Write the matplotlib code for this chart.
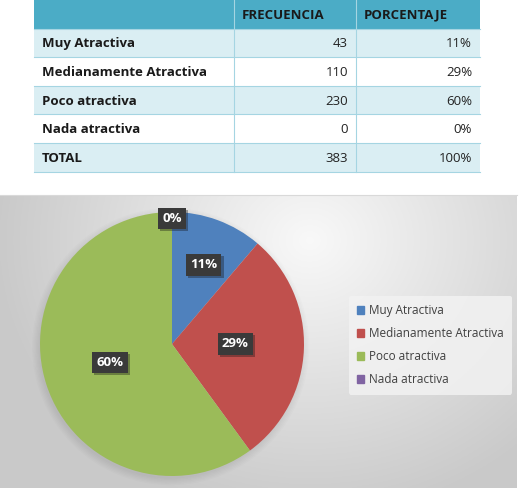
import numpy as np
import matplotlib
matplotlib.use('Agg')
import matplotlib.pyplot as plt
from matplotlib.patches import Rectangle, Circle
import matplotlib.patheffects as pe

plt.rcParams['font.family'] = ['Open Sans', 'DejaVu Sans']

# data
categorias = ['Muy Atractiva', 'Medianamente Atractiva', 'Poco atractiva', 'Nada atractiva']
frecuencia = [43, 110, 230, 0]
porcentaje = [11, 29, 60, 0]
total_frec = 383
total_pct = 100
colores = ['#4F81BD', '#C0504D', '#9BBB59', '#8064A2']

W, H = 521, 488
fig = plt.figure(figsize=(W / 100, H / 100), dpi=100)

# full-figure axes in pixel units
base = fig.add_axes([0, 0, 1, 1])
base.set_xlim(0, W)
base.set_ylim(H, 0)
base.axis('off')

# --- table ---
cols = [34, 234, 356, 480]
row_h = 28.6
top = 0
header_bg = '#4BACC6'
light = '#DAEEF3'
base.add_patch(Rectangle((cols[0], top), cols[-1] - cols[0], row_h, color=header_bg, lw=0))
base.text(cols[1] + 8, top + row_h / 2 + 1, 'FRECUENCIA', fontsize=9.5, fontweight='bold',
          color='#1a1a1a', va='center', ha='left')
base.text(cols[2] + 8, top + row_h / 2 + 1, 'PORCENTAJE', fontsize=9.5, fontweight='bold',
          color='#1a1a1a', va='center', ha='left')

rows = list(zip(categorias, frecuencia, [f'{p}%' for p in porcentaje]))
rows.append(('TOTAL', total_frec, f'{total_pct}%'))
for i, (name, f, p) in enumerate(rows):
    y0 = top + row_h * (i + 1)
    bg = light if i % 2 == 0 else 'white'
    base.add_patch(Rectangle((cols[0], y0), cols[-1] - cols[0], row_h, color=bg, lw=0))
    yc = y0 + row_h / 2 + 1
    base.text(cols[0] + 8, yc, name, fontsize=9.5, fontweight='bold', color='#1a1a1a',
              va='center', ha='left')
    base.text(cols[2] - 8, yc, str(f), fontsize=9.5, color='#222222', va='center', ha='right')
    base.text(cols[3] - 8, yc, p, fontsize=9.5, color='#222222', va='center', ha='right')
# grid lines
for i in range(1, 6):
    y = top + row_h * i
    base.plot([cols[0], cols[-1]], [y, y], color='#A5D5E2', lw=0.8)
for x in cols[1:3]:
    base.plot([x, x], [top, top + row_h * 6], color='#A5D5E2', lw=0.8)
base.plot([cols[0], cols[-1]], [top + row_h * 6] * 2, color='#A5D5E2', lw=0.8)

# --- chart background with radial gradient ---
bx0, bx1, by0, by1 = 0, 517, 195, 488
gx, gy = np.meshgrid(np.linspace(bx0, bx1, 300), np.linspace(by0, by1, 200))
d = np.sqrt(((gx - 310) / 340) ** 2 + ((gy - 240) / 300) ** 2)
val = np.clip(0.975 - 0.2 * d, 0.79, 1.0)
img = np.dstack([val, val, val])
base.imshow(img, extent=(bx0, bx1, by1, by0), aspect='auto', zorder=0.5)
base.plot([bx0, bx1], [by0, by0], color='#d9d9d9', lw=0.8, zorder=0.6)
base.set_xlim(0, W)
base.set_ylim(H, 0)

# --- pie ---
cx, cy, r = 172, 344, 132
ax = fig.add_axes([(cx - r) / W, (H - cy - r) / H, 2 * r / W, 2 * r / H])
ax.set_xlim(-1, 1)
ax.set_ylim(-1, 1)
ax.axis('off')
# soft shadow
for k in range(6):
    ax.add_patch(Circle((-0.01, -0.02), 1.0 + 0.01 * k, color='black', alpha=0.012, lw=0,
                        transform=ax.transData, clip_on=False))
wedges, _ = ax.pie(frecuencia, colors=colores, startangle=90, counterclock=False,
                   radius=1.0, wedgeprops=dict(lw=0))
ax.set_xlim(-1, 1)
ax.set_ylim(-1, 1)

label_pos = [(0.24, 0.60), (0.48, 0.0), (-0.47, -0.14), (0.0, 0.95)]
for p, (lx, ly) in zip(porcentaje, label_pos):
    t = ax.text(lx, ly, f'{p}%', fontsize=9.5, fontweight='bold', color='white',
                ha='center', va='center', zorder=5,
                bbox=dict(boxstyle='square,pad=0.32', fc='#3A3A3A', ec='none'))
    t.get_bbox_patch().set_path_effects([pe.SimplePatchShadow(offset=(1.5, -1.5), alpha=0.35),
                                         pe.Normal()])

# --- legend ---
handles = [Rectangle((0, 0), 1, 1, color=c) for c in colores]
leg = fig.legend(handles, categorias, loc='upper left',
                 bbox_to_anchor=(343 / W, 1 - 290 / H), frameon=True,
                 fontsize=8.5, handlelength=0.6, handleheight=0.6, handletextpad=0.4,
                 labelspacing=0.85, borderpad=0.7, labelcolor='#404040')
leg.get_frame().set_facecolor('#f2f2f2')
leg.get_frame().set_edgecolor('none')
leg.get_frame().set_alpha(0.85)

fig.savefig('out.png', dpi=100)
